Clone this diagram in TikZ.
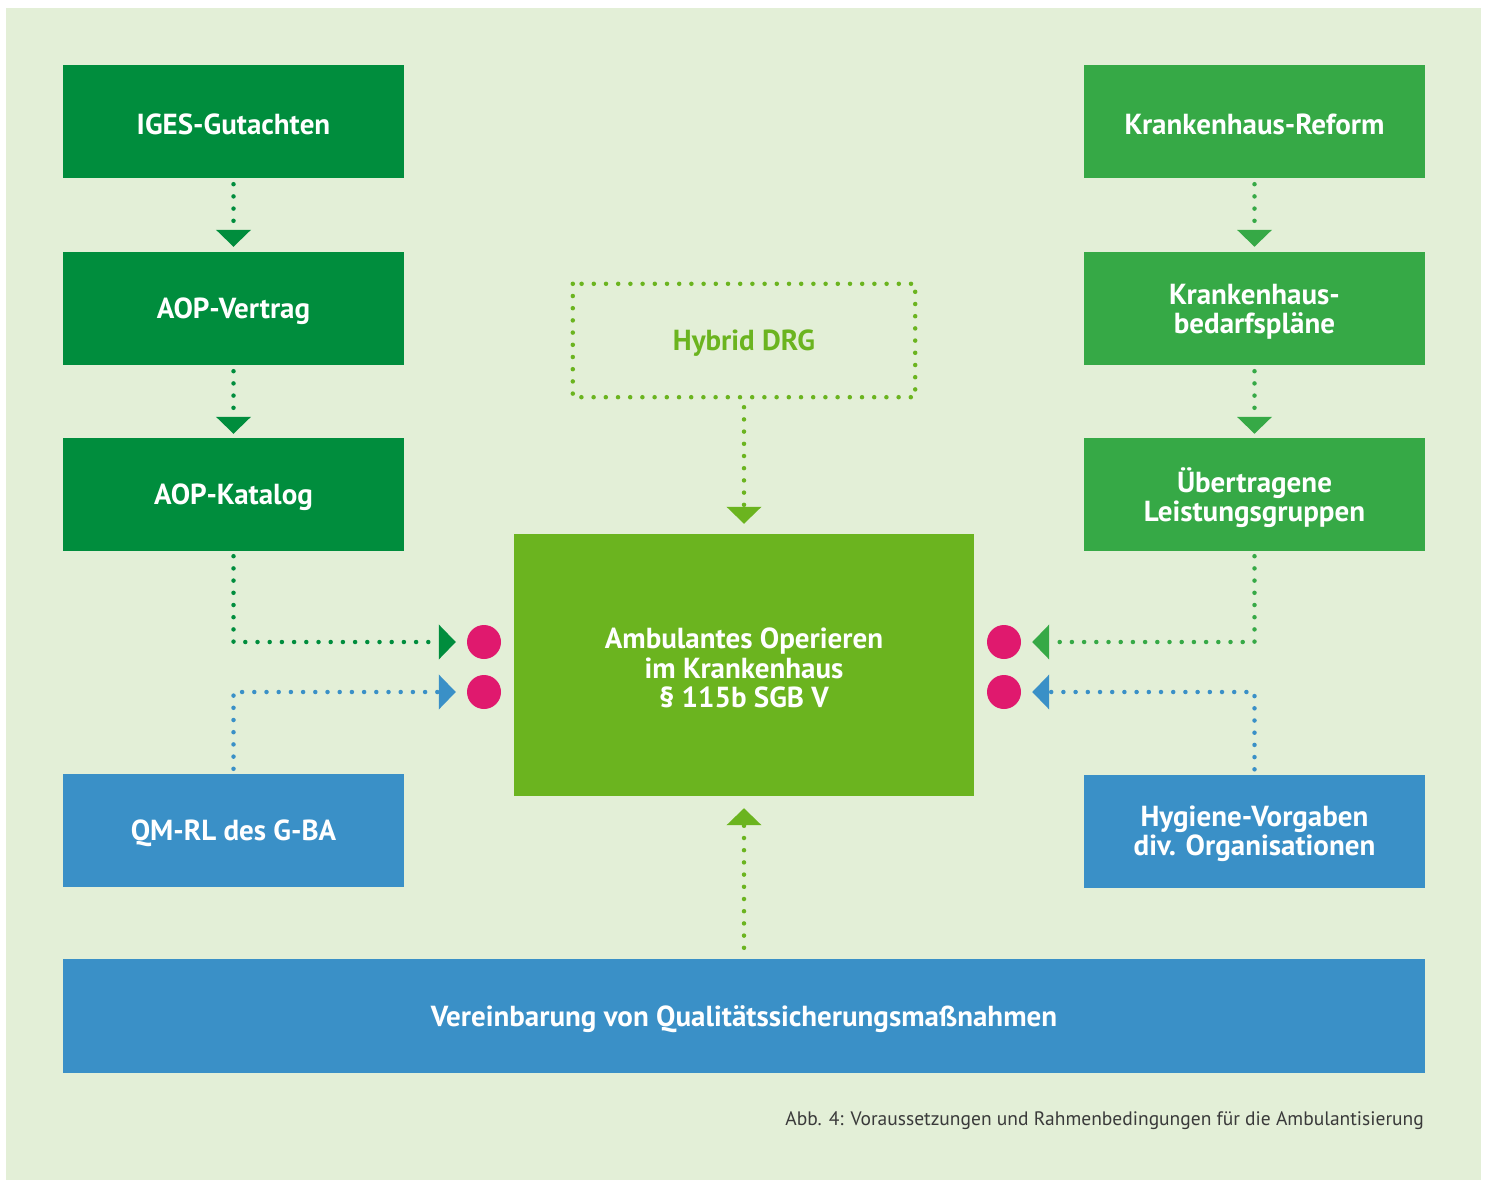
\documentclass[tikz,border=0pt]{standalone}
\usepackage{fontspec}
\setmainfont{PT Sans}
\usetikzlibrary{arrows.meta}
\definecolor{bgc}{HTML}{E3EFD7}
\definecolor{dgreen}{HTML}{008D3D}
\definecolor{mgreen}{HTML}{36A946}
\definecolor{lgreen}{HTML}{6BB41F}
\definecolor{qblue}{HTML}{3A90C7}
\definecolor{pinkdot}{HTML}{E0196E}
\definecolor{captc}{HTML}{3A3A3A}
\tikzset{
  box/.style={minimum width=341pt, minimum height=113pt, inner sep=0pt},
  boxtext/.style={text=white, align=center, inner sep=0pt, yshift=-3pt,
    font=\fontsize{29}{29.5}\selectfont\bfseries},
  dotline/.style={line width=4.5pt, line cap=round, dash pattern=on 0pt off 12.2pt},
  tip/.style={-{Triangle[width=34pt,length=17pt]}},
  marker/.style={circle, fill=pinkdot, minimum size=34pt, inner sep=0pt}
}
\begin{document}
\begin{tikzpicture}[x=1pt,y=-1pt]
  % page and panel
  \useasboundingbox (0,0) rectangle (1489,1180);
  \fill[white] (0,0) rectangle (1489,1180);
  \fill[bgc] (6,8) rectangle (1481,1180);

  % left column
  \node[box, fill=dgreen, label={[boxtext]center:IGES-Gutachten}] (iges) at (233.5,121.5) {};
  \node[box, fill=dgreen, label={[boxtext]center:AOP-Vertrag}] (vertrag) at (233.5,308.5) {};
  \node[box, fill=dgreen, label={[boxtext]center:AOP-Katalog}] (katalog) at (233.5,494.5) {};
  \node[box, fill=qblue, label={[boxtext]center:QM-RL des G-BA}] (qm) at (233.5,830.5) {};

  % right column
  \node[box, fill=mgreen, label={[boxtext]center:Krankenhaus-Reform}] (reform) at (1254.5,121.5) {};
  \node[box, fill=mgreen, label={[boxtext]center:{Krankenhaus-\\bedarfspläne}}] (bedarf) at (1254.5,308.5) {};
  \node[box, fill=mgreen, label={[boxtext]center:{Übertragene\\Leistungsgruppen}}] (lg) at (1254.5,494.5) {};
  \node[box, fill=qblue, label={[boxtext]center:{Hygiene-Vorgaben\\div. Organisationen}}] (hyg) at (1254.5,831) {};

  % centre
  \node[box, fill=lgreen, minimum width=460pt, minimum height=262pt,
    label={[boxtext]center:{Ambulantes Operieren\\im Krankenhaus\\§ 115b SGB V}}] (aop) at (744,665) {};
  \node[box, minimum width=342pt,
    label={[boxtext, text=lgreen]center:Hybrid DRG}] (hybrid) at (744,340.5) {};
  \draw[lgreen, dotline] (hybrid.north west) rectangle (hybrid.south east);

  % bottom bar
  \node[box, fill=qblue, minimum width=1362pt, minimum height=114pt,
    label={[boxtext]center:Vereinbarung von Qualitätssicherungsmaßnahmen}] (qs) at (744,1016) {};

  % markers
  \node[marker] (m1) at (484,642) {};
  \node[marker] (m2) at (484,692) {};
  \node[marker] (m3) at (1004,642) {};
  \node[marker] (m4) at (1004,692) {};

  % vertical chains
  \draw[dgreen, dotline, tip, shorten <=6pt, shorten >=5pt] (iges) -- (vertrag);
  \draw[dgreen, dotline, tip, shorten <=6pt, shorten >=4pt] (vertrag) -- (katalog);
  \draw[mgreen, dotline, tip, shorten <=6pt, shorten >=5pt] (reform) -- (bedarf);
  \draw[mgreen, dotline, tip, shorten <=6pt, shorten >=4pt] (bedarf) -- (lg);

  % into the centre
  \draw[lgreen, dotline, tip, shorten <=10pt, shorten >=10pt] (hybrid) -- (aop);
  \draw[lgreen, dotline, tip, shorten <=11pt, shorten >=12pt] (qs) -- (aop);

  % from the side boxes to the markers
  \draw[dgreen, dotline, tip, shorten <=5pt, shorten >=11pt] (katalog.south) |- (m1.west);
  \draw[qblue, dotline, tip, shorten <=5pt, shorten >=11pt] (qm.north) |- (m2.west);
  \draw[mgreen, dotline, tip, shorten <=5pt, shorten >=11pt] (lg.south) |- (m3.east);
  \draw[qblue, dotline, tip, shorten <=5pt, shorten >=11pt] (hyg.north) |- (m4.east);

  % caption
  \node[anchor=east, text=captc, inner sep=0pt, font=\fontsize{19.5}{22}\selectfont]
    (cap) at (1424,1121) {Abb. 4: Voraussetzungen und Rahmenbedingungen für die Ambulantisierung};
\end{tikzpicture}
\end{document}
